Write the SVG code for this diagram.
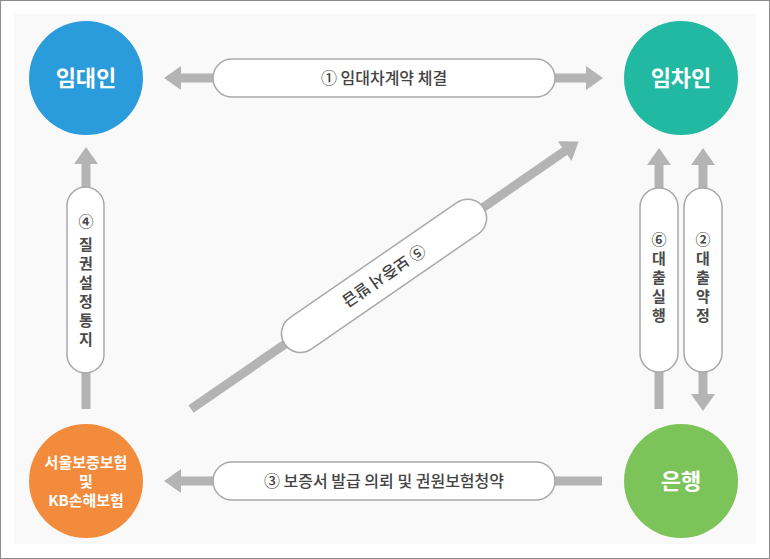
<svg xmlns="http://www.w3.org/2000/svg" width="770" height="559" viewBox="0 0 770 559">
<defs>
<style>
.pill{fill:#ffffff;stroke:#a9a9a9;stroke-width:1.5}
.shaft{stroke:#b4b4b4;stroke-width:9;fill:none}
.head{fill:#b4b4b4}
.lbl{font-family:"Noto Sans CJK KR","Noto Sans",sans-serif;font-size:16px;fill:#444444;font-weight:500}
.vl{font-family:"Noto Sans CJK KR","Noto Sans",sans-serif;font-size:15px;fill:#4a4a4a;font-weight:700;text-anchor:middle}
.cl{font-family:"Noto Sans CJK KR","Noto Sans",sans-serif;font-weight:700;fill:#ffffff;text-anchor:middle}
</style>
</defs>
<rect x="0.5" y="0.5" width="769" height="558" fill="#ffffff" stroke="#8c8c8c" stroke-width="1"/>
<rect x="14" y="14" width="742" height="530" fill="#f9f9f9"/>

<g id="connectors">
  <!-- 1: contract -->
  <g id="c1">
    <line class="shaft" x1="180" y1="78" x2="214" y2="78"/>
    <polygon class="head" points="164,78 181,66 181,90"/>
    <line class="shaft" x1="554" y1="78" x2="588" y2="78"/>
    <polygon class="head" points="603,78 586,66 586,90"/>
    <rect class="pill" x="213" y="59" width="342" height="38" rx="19"/>
    <text class="lbl" x="384" y="84" text-anchor="middle">① 임대차계약 체결</text>
  </g>
  <!-- 3: bottom -->
  <g id="c3">
    <line class="shaft" x1="180" y1="481" x2="214" y2="481"/>
    <polygon class="head" points="164,481 181,469 181,493"/>
    <line class="shaft" x1="554" y1="481" x2="602" y2="481"/>
    <rect class="pill" x="213" y="462" width="342" height="38" rx="19"/>
    <text class="lbl" x="384" y="487" text-anchor="middle">③ 보증서 발급 의뢰 및 권원보험청약</text>
  </g>
  <!-- 4: left vertical -->
  <g id="c4">
    <line class="shaft" x1="86" y1="162" x2="86" y2="188"/>
    <polygon class="head" points="86,147 74,164 98,164"/>
    <line class="shaft" x1="86" y1="372" x2="86" y2="409"/>
    <rect class="pill" x="67" y="187" width="37" height="186" rx="18.5"/>
    <text class="vl"><tspan x="86" y="227">④</tspan><tspan x="86" y="250">질</tspan><tspan x="86" y="269">권</tspan><tspan x="86" y="288">설</tspan><tspan x="86" y="307">정</tspan><tspan x="86" y="326">통</tspan><tspan x="86" y="345">지</tspan></text>
  </g>
  <!-- 6: loan execution -->
  <g id="c6">
    <line class="shaft" x1="659" y1="163" x2="659" y2="189"/>
    <polygon class="head" points="659,148 647,165 671,165"/>
    <line class="shaft" x1="659" y1="371" x2="659" y2="409"/>
    <rect class="pill" x="640" y="188" width="38" height="184" rx="19"/>
    <text class="vl"><tspan x="659" y="245">⑥</tspan><tspan x="659" y="264">대</tspan><tspan x="659" y="283">출</tspan><tspan x="659" y="302">실</tspan><tspan x="659" y="321">행</tspan></text>
  </g>
  <!-- 2: loan agreement -->
  <g id="c2">
    <line class="shaft" x1="703" y1="163" x2="703" y2="189"/>
    <polygon class="head" points="703,148 691,165 715,165"/>
    <line class="shaft" x1="703" y1="371" x2="703" y2="397"/>
    <polygon class="head" points="703,411 691,394 715,394"/>
    <rect class="pill" x="684" y="188" width="38" height="184" rx="19"/>
    <text class="vl"><tspan x="703" y="245">②</tspan><tspan x="703" y="264">대</tspan><tspan x="703" y="283">출</tspan><tspan x="703" y="302">약</tspan><tspan x="703" y="321">정</tspan></text>
  </g>
  <!-- 5: diagonal -->
  <g id="c5" transform="translate(191,409) rotate(-34.6)">
    <line class="shaft" x1="0" y1="0" x2="456" y2="0"/>
    <polygon class="head" points="471,0 454,-12 454,12"/>
    <rect class="pill" x="114" y="-19" width="241" height="38" rx="19"/>
    <text class="lbl" transform="translate(234.5,0) rotate(180)" x="0" y="6" text-anchor="middle">⑤ 보증서 발급</text>
  </g>
</g>

<g id="lessor">
  <circle cx="86" cy="78" r="57" fill="#2a9bdb"/>
  <text class="cl" x="86" y="86" font-size="22">임대인</text>
</g>
<g id="lessee">
  <circle cx="681" cy="78" r="57" fill="#22b9a2"/>
  <text class="cl" x="681" y="86" font-size="22">임차인</text>
</g>
<g id="bank">
  <circle cx="681" cy="481" r="57" fill="#7cc35a"/>
  <text class="cl" x="681" y="489" font-size="22">은행</text>
</g>
<g id="insurer">
  <circle cx="86" cy="481" r="57" fill="#f28b3c"/>
  <text class="cl" font-size="15"><tspan x="86" y="468">서울보증보험</tspan><tspan x="86" y="487">및</tspan><tspan x="86" y="506">KB손해보험</tspan></text>
</g>
</svg>
